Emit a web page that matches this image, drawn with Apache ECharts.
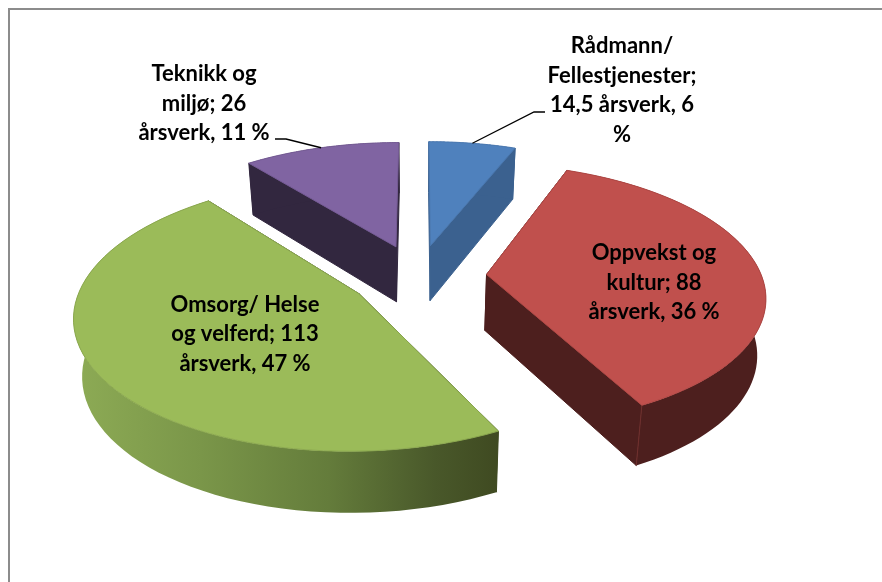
<!DOCTYPE html>
<html>
<head>
<meta charset="utf-8">
<style>html,body{margin:0;padding:0;background:#fff}#c{width:882px;height:582px}</style>
<script src="https://cdn.jsdelivr.net/npm/echarts@6/dist/echarts.min.js"></script>
</head>
<body>
<div id="c"></div>
<script>
const categories = ['Rådmann/ Fellestjenester', 'Oppvekst og kultur', 'Omsorg/ Helse og velferd', 'Teknikk og miljø'];
const values = [14.5, 88, 113, 26];
const percents = [6, 36, 47, 11];
const labelLines = [
  ['Rådmann/', 'Fellestjenester;', '14,5 årsverk, 6', '%'],
  ['Oppvekst og', 'kultur; 88', 'årsverk, 36 %'],
  ['Omsorg/ Helse', 'og velferd; 113', 'årsverk, 47 %'],
  ['Teknikk og', 'miljø; 26', 'årsverk, 11 %']
];

// styling and layout
const topColors = ['#4f81bd', '#c0504d', '#9bbb59', '#8064a2'];
const edgeColors = ['#4a78b0', '#b04744', '#8ba84f', '#755b95'];
const cutColors = ['#3b618f', '#4d1f1e', '#3f4a21', '#32273f'];
const seamColors = ['#3b618f', '#71302e', '#3f4a21', '#32273f'];
const wallColors = [
  '#3b618f', '#4d1f1e',
  { type: 'linear', x: 0, y: 0, x2: 1, y2: 0, colorStops: [
    { offset: 0, color: '#8dab55' }, { offset: 0.3, color: '#7a9649' },
    { offset: 0.6, color: '#647c3b' }, { offset: 0.85, color: '#49582a' }, { offset: 1, color: '#3f4a21' }
  ] },
  '#32273f'
];
const labelCenters = [[622, 90.5], [654, 282.5], [245, 334], [204, 103.5]];
const leaderElbows = [[[534, 112], [545, 112]], null, null, [[286, 139], [275, 139]]];
const CX = 418, CY = 276, A = 275, B = 128, K = 0.15, KH = 0.08, EXPLODE = 0.25, H = 56, TAPER = 0.025;

const total = values.reduce((a, b) => a + b, 0);
const starts = [];
values.reduce((acc, v, i) => { starts[i] = acc; return acc + v; }, 0);

function project(X, Y, depth) {
  const s = 1 / (1 + K * Y);
  return [CX + A * X * s * (1 - TAPER * depth), CY - B * Y * s + depth * H / (1 + KH * Y)];
}

function renderSlice(params, api) {
  const i = api.value(0);
  const a0 = starts[i] / total * Math.PI * 2;
  const a1 = (starts[i] + api.value(1)) / total * Math.PI * 2;
  const mid = (a0 + a1) / 2;
  const ox = EXPLODE * Math.sin(mid), oy = EXPLODE * Math.cos(mid);
  const steps = 64;
  const arc = d => {
    const pts = [];
    for (let j = 0; j <= steps; j++) {
      const t = a0 + (a1 - a0) * j / steps;
      pts.push(project(ox + Math.sin(t), oy + Math.cos(t), d));
    }
    return pts;
  };
  const apexTop = project(ox, oy, 0), apexBot = project(ox, oy, 1);
  const arcTop = arc(0), arcBot = arc(1);
  const poly = (points, fill, stroke, z2) => ({
    type: 'polygon', z2: z2 || 0, shape: { points },
    style: { fill, stroke: stroke || fill, lineWidth: 1 }
  });
  const children = [
    poly([apexTop, arcTop[0], arcBot[0], apexBot], cutColors[i]),
    poly([apexTop, arcTop[steps], arcBot[steps], apexBot], cutColors[i]),
    poly(arcTop.concat(arcBot.slice().reverse()), wallColors[i], 'rgba(0,0,0,0)'),
    {
      type: 'polyline', z2: 0, shape: { points: [arcTop[steps], arcBot[steps]] },
      style: { fill: 'none', stroke: seamColors[i], lineWidth: 1 }
    },
    poly([apexTop].concat(arcTop), topColors[i], edgeColors[i], 1)
  ];
  if (leaderElbows[i]) {
    const from = project(ox + Math.sin(mid), oy + Math.cos(mid), 0);
    children.push({
      type: 'polyline', z2: 2, shape: { points: [from].concat(leaderElbows[i]) },
      style: { fill: 'none', stroke: '#000', lineWidth: 1.3 }
    });
  }
  children.push({
    type: 'text', z2: 3,
    style: {
      x: labelCenters[i][0], y: labelCenters[i][1],
      text: labelLines[i].join('\n'),
      font: 'bold 22px Lato', lineHeight: 29.5,
      fill: '#000', align: 'center', verticalAlign: 'middle'
    }
  });
  return { type: 'group', children };
}

const chart = echarts.init(document.getElementById('c'), null, { renderer: 'canvas' });
chart.setOption({
  animation: false,
  backgroundColor: '#fff',
  graphic: [{
    type: 'polyline', silent: true,
    shape: { points: [[9, 582], [9, 9], [882, 9]] },
    style: { fill: 'none', stroke: '#8c8c8c', lineWidth: 2 }
  }],
  series: [{
    type: 'custom',
    coordinateSystem: 'none',
    renderItem: renderSlice,
    encode: { itemName: 2, value: 1 },
    data: values.map((v, i) => [i, v, categories[i], percents[i]])
  }]
});
</script>
</body>
</html>
